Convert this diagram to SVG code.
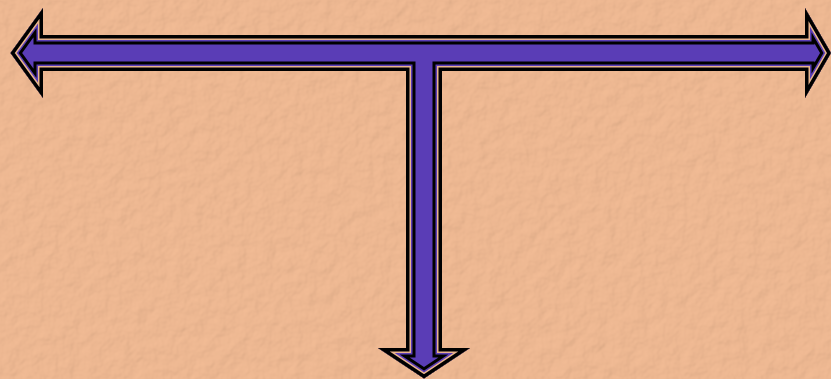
<svg xmlns="http://www.w3.org/2000/svg" width="831" height="379" viewBox="0 0 831 379">
  <defs>
    <filter id="stucco" x="0" y="0" width="100%" height="100%" filterUnits="userSpaceOnUse">
      <feTurbulence type="fractalNoise" baseFrequency="0.07" numOctaves="3" seed="7" result="noise"/>
      <feDiffuseLighting in="noise" surfaceScale="1.1" diffuseConstant="1" lighting-color="#F2BB94" result="lit">
        <feDistantLight azimuth="225" elevation="72"/>
      </feDiffuseLighting>
    </filter>
    <path id="tshape" d="M 10.5,53 L 43,8 L 43,35 L 805,35 L 805,8 L 831,53 L 805,98 L 805,71 L 442,71 L 442,348 L 470,348 L 424,378.5 L 378,348 L 406,348 L 406,71 L 43,71 L 43,98 Z"/>
    <clipPath id="tclip">
      <use href="#tshape"/>
    </clipPath>
    <style>
      .band { fill: none; stroke-linejoin: miter; stroke-miterlimit: 10; }
    </style>
  </defs>

  <rect x="0" y="0" width="831" height="379" fill="#EAB48E"/>
  <rect x="0" y="0" width="831" height="379" filter="url(#stucco)"/>

  <g id="t-arrow">
    <use href="#tshape" fill="#5A3DB6"/>
    <g clip-path="url(#tclip)">
      <use href="#tshape" class="band" stroke="#000000" stroke-width="19"/>
      <use href="#tshape" class="band" stroke="#5A3DB6" stroke-width="13"/>
      <use href="#tshape" class="band" stroke="#E8B48C" stroke-width="10"/>
      <use href="#tshape" class="band" stroke="#000000" stroke-width="7"/>
    </g>
  </g>
</svg>
